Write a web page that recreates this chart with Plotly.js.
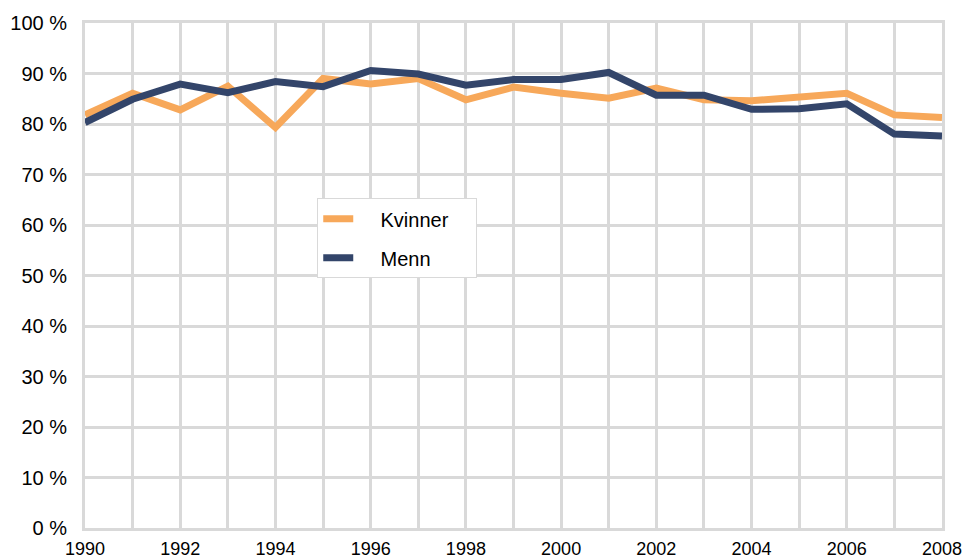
<!DOCTYPE html>
<html>
<head>
<meta charset="utf-8">
<script src="https://cdn.plot.ly/plotly-3.0.1.min.js"></script>
<style>html,body{margin:0;padding:0;background:#fff;}#chart{width:967px;height:560px;}</style>
</head>
<body>
<div id="chart"></div>
<script>
const years = [1990,1991,1992,1993,1994,1995,1996,1997,1998,1999,2000,2001,2002,2003,2004,2005,2006,2007,2008];
const kvinner = [81.8,86.1,82.8,87.5,79.3,89.0,87.9,89.0,84.8,87.3,86.1,85.1,87.1,84.8,84.6,85.3,86.1,81.8,81.3];
const menn = [80.3,84.9,87.9,86.2,88.4,87.4,90.6,89.9,87.7,88.8,88.8,90.2,85.7,85.7,82.9,83.0,84.0,78.0,77.6];
const xTickLabels = ["1990","","1992","","1994","","1996","","1998","","2000","","2002","","2004","","2006","","2008"];
const yTicks = [0,10,20,30,40,50,60,70,80,90,100];
const yTickLabels = ["0 %","10 %","20 %","30 %","40 %","50 %","60 %","70 %","80 %","90 %","100 %"];
const seriesNames = ["Kvinner", "Menn"];

const grid = '#d9d9d9';
const pad = '&nbsp;&nbsp;&nbsp;&nbsp;';
const traces = [
  {x: years, y: kvinner, name: pad + seriesNames[0] + '&nbsp;&nbsp;&nbsp;&nbsp;', legendgroup: 'k', type: 'scatter', mode: 'lines',
   line: {color: '#F7A85A', width: 7}},
  {x: years, y: menn, name: pad + seriesNames[1], legendgroup: 'm', type: 'scatter', mode: 'lines',
   line: {color: '#33456A', width: 7}}
];
const layout = {
  width: 967, height: 560,
  margin: {l: 85, r: 25, t: 23, b: 32},
  paper_bgcolor: '#fff', plot_bgcolor: '#fff',
  font: {family: 'Liberation Sans, Arial, sans-serif', size: 19, color: '#000'},
  showlegend: true,
  legend: {x: 0.271, y: 0.653, xanchor: 'left', yanchor: 'top',
    bordercolor: grid, borderwidth: 1, bgcolor: '#fff', traceorder: 'grouped',
    font: {size: 20, color: '#000'}, tracegroupgap: 10},
  xaxis: {range: [1990, 2008], tickvals: years, ticktext: xTickLabels,
    showgrid: true, gridcolor: grid, gridwidth: 3,
    showline: true, mirror: true, linecolor: grid, linewidth: 3,
    zeroline: false, ticks: '', ticklabelstandoff: 2, tickfont: {size: 18}, fixedrange: true},
  yaxis: {range: [0, 100], tickvals: yTicks, ticktext: yTickLabels,
    showgrid: true, gridcolor: grid, gridwidth: 3,
    showline: true, mirror: true, linecolor: grid, linewidth: 3,
    zeroline: false, ticks: '', ticklabelstandoff: 11, tickfont: {size: 20}, fixedrange: true}
};
Plotly.newPlot('chart', traces, layout, {displayModeBar: false, staticPlot: true});
</script>
</body>
</html>
